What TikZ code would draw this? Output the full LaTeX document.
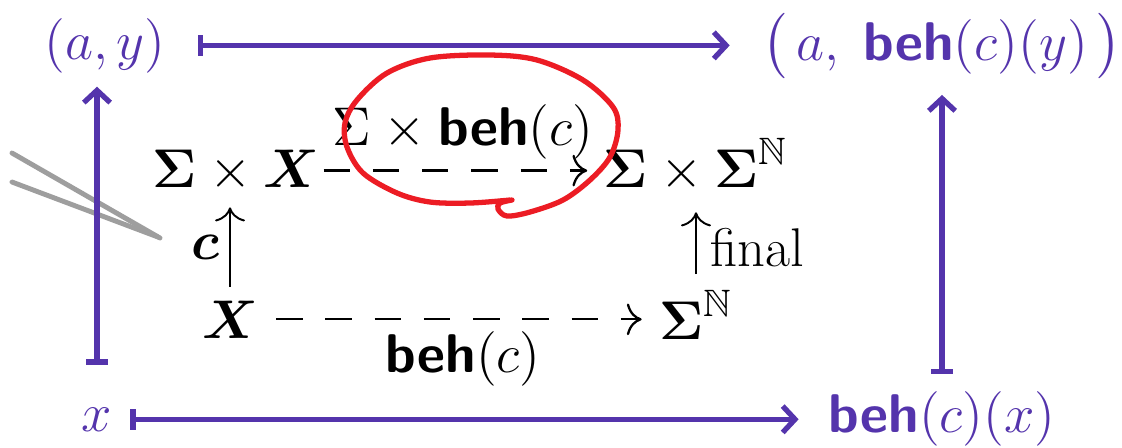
\documentclass[tikz,border=0pt]{standalone}
\usepackage{fix-cm}
\usepackage{amsmath,amssymb}
\usepackage{xcolor}
\usepackage{tikz}
\usetikzlibrary{arrows.meta}

\definecolor{vio}{RGB}{84,52,172}
\definecolor{pen}{RGB}{236,28,36}
\newcommand{\beh}{\textsf{\bfseries beh}}

\begin{document}
\begin{tikzpicture}[x=0.01cm, y=-0.01cm,
    every node/.style={font=\fontsize{15.5}{18}\selectfont, inner sep=0pt},
    obj/.style={anchor=base},
    elem/.style={anchor=base, text=vio},
    maps_line/.style={draw=vio, line width=1.5pt, {Bar[width=6pt]}-{Straight Barb[length=3.5pt,width=7.5pt]}},
    dash_line/.style={line width=0.65pt, dash pattern=on 7.5pt off 6.5pt, -{Computer Modern Rightarrow[length=4.2pt,width=9pt]}},
    up_line/.style={line width=0.55pt, -{Computer Modern Rightarrow[length=4pt,width=8.5pt]}},
    pen_line/.style={draw=pen, line width=1.5pt, line cap=round, line join=round},
    stick_line/.style={draw=black!38, line width=1.4pt, line cap=round}
]
    \useasboundingbox (0,0) rectangle (1122,447);

    % Stylus in the corner
    \draw [stick_line] (12,153) -- (160,238);
    \draw [stick_line] (12,182) -- (158,237);

    % Inner square
    \node (sx) [obj] at (236,187) {$\boldsymbol{\Sigma}\times\boldsymbol{X}$};
    \node (ssn) [obj] at (696,187) {$\boldsymbol{\Sigma}\times\boldsymbol{\Sigma}^{\mathbb{N}}$};
    \node (xx) [obj] at (230,338) {$\boldsymbol{X}$};
    \node (sn) [obj] at (696,339) {$\boldsymbol{\Sigma}^{\mathbb{N}}$};

    \node (lab_top) [obj] at (463,145) {$\Sigma\times\beh(c)$};
    \node (lab_bot) [obj] at (463,372) {$\beh(c)$};
    \node (lab_c) [obj] at (205,259) {$\boldsymbol{c}$};
    \node (lab_final) [anchor=base west] at (710,266) {final};

    \draw [dash_line, shorten <=1pt, shorten >=4.5pt] (sx.east) -- (sx.east -| ssn.west);
    \draw [dash_line, shorten <=5pt, shorten >=4.8pt] (xx.east) -- (xx.east -| sn.west);
    \draw [up_line, shorten <=3.7pt, shorten >=4.3pt] (xx.north) -- (xx.north |- sx.south);
    \draw [up_line, shorten <=4.3pt, shorten >=5.7pt] (sn.north) -- (sn.north |- ssn.south);

    % Elements
    \node (ay) [elem] at (105,59) {$(a, y)$};
    \node (ab) [elem] at (942,60) {$\bigl(\,a,\;\beh(c)(y)\,\bigr)$};
    \node (x) [elem] at (97,431) {$x$};
    \node (bc) [elem] at (942,432) {$\beh(c)(x)$};

    \draw [maps_line, shorten <=9pt, shorten >=9pt] (ay.east) -- (ay.east -| ab.west);
    \draw [maps_line, shorten <=5pt, shorten >=8.3pt] (x.east) -- (x.east -| bc.west);
    \draw [maps_line, shorten <=12pt, shorten >=3.8pt] (x.north) -- (x.north |- ay.south);
    \draw [maps_line, shorten <=4.6pt, shorten >=4.3pt] (bc.north) -- (bc.north |- ab.south);

    % Red loop round the label
    \draw [pen_line] plot [smooth, tension=0.55] coordinates {(510,200) (470,203) (430,202) (397,193) (363,173) (347,147) (345,123) (357,100) (387,73) (430,58) (490,55) (537,60) (583,80) (613,107) (618,130) (610,157) (590,180) (563,200) (530,212) (507,216) (498,209) (500,203) (512,200)};
\end{tikzpicture}
\end{document}
